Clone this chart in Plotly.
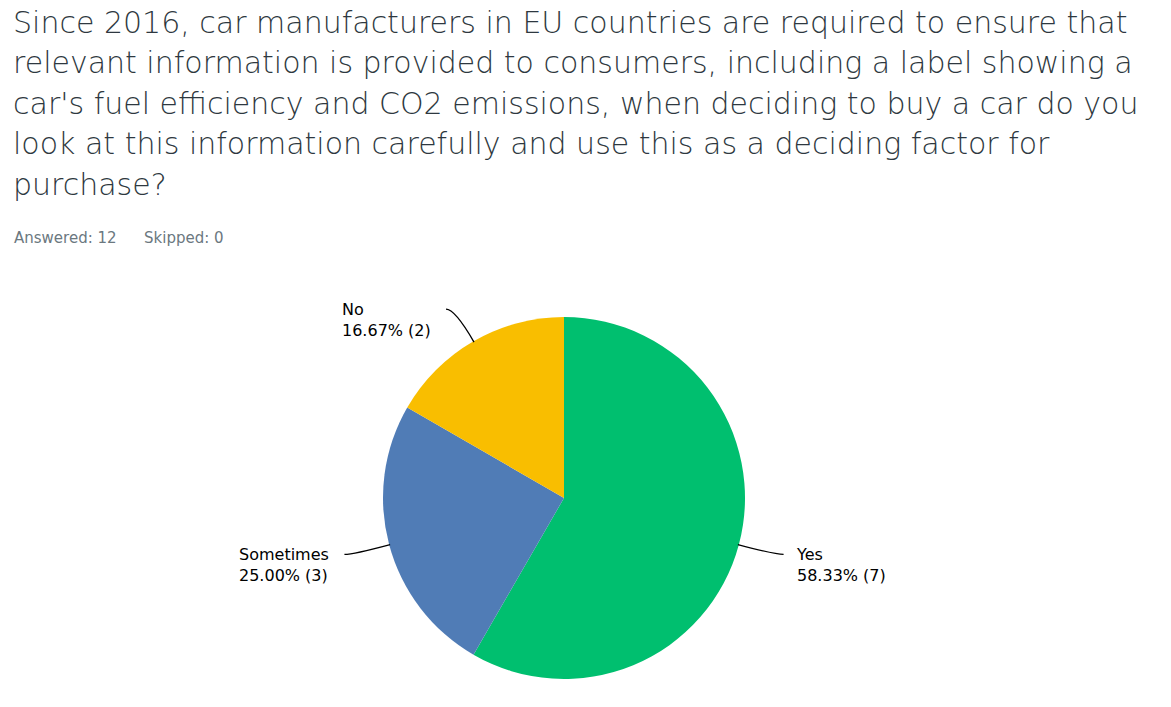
import math
import plotly.graph_objects as go

# ---- data ----
categories = ["Yes", "Sometimes", "No"]
counts = [7, 3, 2]
percent_labels = ["58.33%", "25.00%", "16.67%"]
colors = ["#00BF6F", "#507CB6", "#F9BE00"]

title_lines = [
    "Since 2016, car manufacturers in EU countries are required to ensure that",
    "relevant information is provided to consumers, including a label showing a",
    "car's fuel efficiency and CO2 emissions, when deciding to buy a car do you",
    "look at this information carefully and use this as a deciding factor for",
    "purchase?",
]
answered = 12
skipped = 0

# ---- layout geometry (page pixels; body margin removed below) ----
W, H = 1171, 707
cx, cy, R = 564, 498, 181

fig = go.Figure()

fig.add_trace(go.Pie(
    labels=categories,
    values=counts,
    sort=False,
    direction="clockwise",
    rotation=0,
    marker=dict(colors=colors, line=dict(width=0)),
    textinfo="none",
    hoverinfo="label+percent+value",
    showlegend=False,
    domain=dict(x=[(cx - R) / W, (cx + R) / W], y=[1 - (cy + R) / H, 1 - (cy - R) / H]),
))

# invisible pixel axes for leader lines and labels
fig.add_trace(go.Scatter(x=[0, W], y=[0, H], mode="markers",
                         marker=dict(opacity=0), hoverinfo="skip", showlegend=False))

shapes = []
annotations = []
total = sum(counts)
cum = 0
label_font = dict(family="DejaVu Sans", size=16, color="#000000")
for cat, cnt, pct in zip(categories, counts, percent_labels):
    mid = (cum + cnt / 2) / total * 360
    cum += cnt
    a = math.radians(mid)
    dx, dy = math.sin(a), -math.cos(a)
    sx, sy = cx + (R - 1) * dx, cy + (R - 1) * dy
    qx, qy = cx + (R + 37) * dx, cy + (R + 37) * dy
    side = 1 if dx >= 0 else -1
    ex, ey = qx + side * 9, qy
    shapes.append(dict(type="path", xref="x", yref="y",
                       path=f"M {sx},{sy} Q {qx},{qy} {ex},{ey}",
                       line=dict(color="#000000", width=1.3)))
    annotations.append(dict(
        x=ex + (10 if side > 0 else -13), y=ey + 11, xref="x", yref="y",
        xanchor="left" if side > 0 else "right", yanchor="middle",
        align="left", showarrow=False,
        text=f"{cat}<br>{pct} ({cnt})", font=label_font,
    ))

title_font = dict(family="DejaVu Sans", size=30, color="#2E3840", weight=200)
for i, line in enumerate(title_lines):
    annotations.append(dict(
        x=11, y=22 + i * 40.5, xref="x", yref="y",
        xanchor="left", yanchor="middle", align="left",
        showarrow=False, text=line, font=title_font,
    ))

sub_font = dict(family="DejaVu Sans", size=15, color="#6B787F")
annotations.append(dict(
    x=12, y=238, xref="x", yref="y", xanchor="left", yanchor="middle",
    showarrow=False, text=f"Answered: {answered}", font=sub_font,
))
annotations.append(dict(
    x=142, y=238, xref="x", yref="y", xanchor="left", yanchor="middle",
    showarrow=False, text=f"Skipped: {skipped}", font=sub_font,
))

fig.update_layout(
    width=W, height=H,
    margin=dict(l=0, r=0, t=0, b=0),
    paper_bgcolor="white", plot_bgcolor="rgba(0,0,0,0)",
    xaxis=dict(range=[0, W], visible=False, fixedrange=True, domain=[0, 1]),
    yaxis=dict(range=[H, 0], visible=False, fixedrange=True, domain=[0, 1]),
    shapes=shapes, annotations=annotations,
)

fig.write_html("out.html", config={"displayModeBar": False})

# remove the default page margin so the figure fills the window exactly
with open("out.html", "r", encoding="utf-8") as f:
    html = f.read()
html = html.replace("<body>", '<body style="margin:0;overflow:hidden">', 1)
with open("out.html", "w", encoding="utf-8") as f:
    f.write(html)
